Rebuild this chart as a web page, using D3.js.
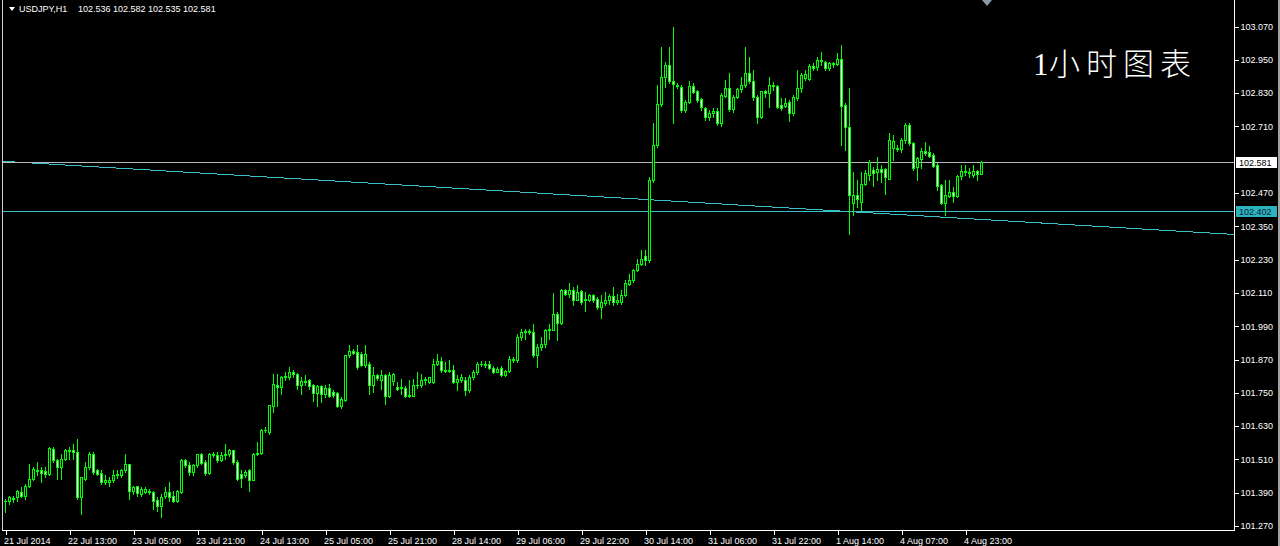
<!DOCTYPE html>
<html><head><meta charset="utf-8">
<script src="https://cdn.jsdelivr.net/npm/d3@7"></script>
<style>html,body{margin:0;padding:0;background:#000;overflow:hidden}</style>
</head><body><svg id="c" width="1280" height="546"></svg>
<script>
const symbol = "USDJPY,H1";
const titleText = "小时图表";
const titleNum = "1";
const open = [
101.358,101.360,101.366,101.372,101.390,101.378,101.414,101.439,101.466,101.469,
101.466,101.457,101.547,101.507,101.481,101.511,101.538,101.543,101.535,101.372,
101.439,101.481,101.529,101.469,101.459,101.426,101.426,101.435,101.451,101.451,
101.469,101.490,101.396,101.411,101.384,101.390,101.396,101.390,101.363,101.342,
101.375,101.390,101.375,101.360,101.390,101.505,101.487,101.463,101.487,101.526,
101.499,101.459,101.529,101.523,101.505,101.523,101.526,101.541,101.499,101.454,
101.451,101.469,101.435,101.529,101.531,101.613,101.606,101.702,101.775,101.769,
101.805,101.805,101.823,101.817,101.775,101.790,101.793,101.775,101.748,101.771,
101.745,101.766,101.751,101.748,101.699,101.723,101.883,101.898,101.895,101.889,
101.847,101.853,101.775,101.811,101.793,101.811,101.738,101.790,101.769,101.767,
101.766,101.735,101.738,101.775,101.775,101.793,101.787,101.787,101.853,101.862,
101.829,101.827,101.831,101.787,101.793,101.796,101.757,101.805,101.823,101.851,
101.853,101.853,101.839,101.823,101.837,101.811,101.826,101.871,101.865,101.949,
101.967,101.971,101.967,101.883,101.913,101.923,101.973,101.975,102.031,101.999,
102.120,102.104,102.120,102.084,102.116,102.082,102.084,102.100,102.088,102.057,
102.073,102.082,102.096,102.076,102.074,102.100,102.142,102.154,102.192,102.214,
102.240,102.226,102.515,102.641,102.788,102.888,102.930,102.870,102.858,102.851,
102.767,102.797,102.854,102.837,102.806,102.773,102.741,102.755,102.765,102.720,
102.818,102.845,102.770,102.815,102.842,102.857,102.902,102.870,102.813,102.741,
102.834,102.827,102.857,102.854,102.785,102.782,102.797,102.755,102.810,102.845,
102.882,102.878,102.925,102.924,102.948,102.942,102.918,102.936,102.932,102.950,
102.785,102.707,102.433,102.460,102.436,102.502,102.533,102.551,102.545,102.553,
102.553,102.520,102.629,102.631,102.626,102.659,102.713,102.650,102.563,102.589,
102.620,102.617,102.605,102.569,102.496,102.433,102.458,102.472,102.458,102.529,
102.548,102.543,102.533,102.547,102.536];
const high = [
101.366,101.378,101.378,101.399,101.408,101.420,101.493,101.481,101.499,101.481,
101.481,101.553,101.553,101.511,101.529,101.547,101.553,101.565,101.583,101.445,
101.499,101.535,101.535,101.475,101.469,101.451,101.445,101.469,101.469,101.475,
101.529,101.493,101.414,101.414,101.408,101.408,101.402,101.396,101.372,101.384,
101.408,101.426,101.396,101.399,101.511,101.511,101.499,101.493,101.529,101.531,
101.505,101.531,101.535,101.535,101.535,101.565,101.547,101.543,101.505,101.469,
101.471,101.475,101.531,101.571,101.619,101.625,101.706,101.817,101.817,101.807,
101.823,101.841,101.829,101.819,101.805,101.811,101.799,101.781,101.775,101.775,
101.775,101.781,101.757,101.751,101.732,101.883,101.919,101.907,101.919,101.895,
101.919,101.859,101.841,101.817,101.829,101.817,101.823,101.819,101.787,101.799,
101.771,101.793,101.799,101.823,101.817,101.805,101.805,101.871,101.889,101.877,
101.859,101.865,101.847,101.811,101.817,101.805,101.811,101.829,101.859,101.862,
101.862,101.862,101.843,101.841,101.843,101.831,101.880,101.877,101.961,101.979,
101.979,101.979,101.997,101.925,101.949,101.979,101.997,102.108,102.039,102.124,
102.124,102.144,102.130,102.136,102.118,102.112,102.106,102.106,102.094,102.100,
102.112,102.106,102.130,102.106,102.120,102.154,102.178,102.196,102.232,102.264,
102.262,102.527,102.719,102.857,102.996,102.942,102.996,103.068,102.863,102.857,
102.803,102.870,102.863,102.839,102.809,102.779,102.767,102.776,102.773,102.830,
102.876,102.900,102.821,102.845,102.888,102.996,102.960,102.912,102.821,102.837,
102.839,102.888,102.869,102.857,102.809,102.809,102.803,102.821,102.912,102.900,
102.912,102.933,102.936,102.957,102.978,102.945,102.942,102.942,102.972,103.002,
102.791,102.845,102.545,102.515,102.544,102.551,102.587,102.563,102.599,102.569,
102.557,102.683,102.677,102.641,102.665,102.719,102.719,102.653,102.599,102.629,
102.653,102.637,102.611,102.575,102.502,102.514,102.514,102.490,102.533,102.569,
102.569,102.557,102.569,102.551,102.582];
const low = [
101.318,101.348,101.354,101.360,101.372,101.366,101.408,101.433,101.451,101.426,
101.445,101.451,101.499,101.439,101.439,101.505,101.511,101.511,101.366,101.312,
101.433,101.475,101.457,101.451,101.420,101.420,101.414,101.426,101.442,101.445,
101.463,101.366,101.384,101.378,101.378,101.387,101.384,101.330,101.324,101.300,
101.370,101.360,101.354,101.354,101.387,101.481,101.451,101.451,101.481,101.490,
101.451,101.457,101.517,101.499,101.502,101.511,101.519,101.493,101.433,101.408,
101.445,101.396,101.433,101.523,101.529,101.607,101.600,101.678,101.702,101.745,
101.793,101.799,101.805,101.763,101.745,101.775,101.763,101.720,101.702,101.714,
101.732,101.732,101.732,101.696,101.694,101.720,101.877,101.887,101.835,101.843,
101.841,101.745,101.751,101.793,101.763,101.708,101.732,101.775,101.757,101.745,
101.732,101.732,101.735,101.766,101.769,101.781,101.784,101.784,101.847,101.823,
101.823,101.823,101.784,101.757,101.787,101.742,101.751,101.799,101.817,101.843,
101.841,101.835,101.819,101.823,101.807,101.807,101.823,101.859,101.859,101.937,
101.943,101.961,101.877,101.841,101.901,101.913,101.943,101.973,101.937,101.997,
102.100,102.094,102.064,102.082,102.070,102.043,102.079,102.076,102.051,102.019,
102.064,102.070,102.064,102.067,102.070,102.096,102.136,102.148,102.187,102.208,
102.208,102.220,102.509,102.635,102.782,102.851,102.863,102.719,102.845,102.761,
102.761,102.791,102.827,102.797,102.767,102.731,102.731,102.743,102.713,102.710,
102.815,102.765,102.761,102.809,102.833,102.851,102.863,102.803,102.719,102.737,
102.815,102.779,102.839,102.773,102.767,102.777,102.729,102.749,102.803,102.833,
102.876,102.876,102.912,102.912,102.930,102.912,102.912,102.924,102.930,102.641,
102.623,102.322,102.388,102.418,102.406,102.496,102.514,102.493,102.514,102.508,
102.466,102.517,102.587,102.620,102.617,102.647,102.641,102.551,102.514,102.557,
102.605,102.599,102.563,102.478,102.430,102.388,102.452,102.436,102.452,102.520,
102.533,102.527,102.527,102.514,102.535];
const close = [
101.360,101.372,101.370,101.394,101.378,101.414,101.439,101.475,101.469,101.459,
101.454,101.550,101.507,101.481,101.511,101.541,101.543,101.535,101.372,101.445,
101.481,101.529,101.463,101.457,101.426,101.435,101.435,101.451,101.454,101.469,
101.490,101.396,101.408,101.387,101.402,101.402,101.390,101.360,101.339,101.372,
101.390,101.372,101.358,101.394,101.505,101.487,101.463,101.487,101.526,101.495,
101.459,101.529,101.523,101.505,101.523,101.529,101.541,101.499,101.439,101.442,
101.463,101.435,101.529,101.531,101.613,101.615,101.706,101.781,101.769,101.805,
101.807,101.823,101.815,101.775,101.790,101.787,101.771,101.748,101.771,101.745,
101.766,101.738,101.740,101.699,101.726,101.883,101.898,101.893,101.841,101.847,
101.889,101.775,101.811,101.803,101.811,101.738,101.811,101.817,101.763,101.769,
101.735,101.740,101.775,101.778,101.793,101.798,101.805,101.853,101.862,101.829,
101.826,101.830,101.787,101.799,101.805,101.757,101.805,101.823,101.853,101.853,
101.849,101.839,101.823,101.833,101.811,101.826,101.871,101.867,101.949,101.967,
101.971,101.966,101.883,101.915,101.925,101.973,101.977,102.031,101.999,102.120,
102.106,102.120,102.084,102.112,102.076,102.087,102.100,102.084,102.057,102.076,
102.084,102.096,102.076,102.082,102.100,102.144,102.156,102.192,102.214,102.232,
102.226,102.515,102.641,102.788,102.888,102.930,102.870,102.860,102.852,102.767,
102.797,102.854,102.833,102.803,102.777,102.743,102.755,102.765,102.722,102.821,
102.845,102.770,102.815,102.842,102.857,102.902,102.870,102.813,102.741,102.837,
102.827,102.857,102.852,102.779,102.773,102.794,102.755,102.815,102.845,102.894,
102.897,102.926,102.920,102.948,102.943,102.918,102.936,102.932,102.950,102.782,
102.707,102.461,102.460,102.448,102.502,102.539,102.581,102.539,102.553,102.545,
102.527,102.659,102.656,102.626,102.659,102.713,102.647,102.557,102.593,102.620,
102.613,102.601,102.565,102.493,102.433,102.460,102.472,102.458,102.529,102.548,
102.543,102.539,102.548,102.536,102.581];
const xTickBars = [0,16,32,48,64,80,96,112,128,144,160,176,192,208,224,240];
const xTickLabels = ["21 Jul 2014","22 Jul 13:00","23 Jul 05:00","23 Jul 21:00","24 Jul 13:00",
  "25 Jul 05:00","25 Jul 21:00","28 Jul 14:00","29 Jul 06:00","29 Jul 22:00","30 Jul 14:00",
  "31 Jul 06:00","31 Jul 22:00","1 Aug 14:00","4 Aug 07:00","4 Aug 23:00"];
const yTickValues = [103.070,102.950,102.830,102.710,102.470,102.350,102.230,102.110,
  101.990,101.870,101.750,101.630,101.510,101.390,101.270];
const bidPrice = 102.581;
const levelPrice = 102.402;
const trendBars = [0, 244];
const trendPrices = [102.582, 102.373];

const W = 1280, H = 546;
const plotLeft = 2, plotRight = 1234, plotBottom = 530;
const FONT = "'Liberation Sans', Arial, sans-serif";
const LIME = "#00ff00", CYAN = "#3cc0c8";

const svg = d3.select("#c");
svg.append("rect").attr("width", W).attr("height", H).attr("fill", "#000");

const n = open.length;
const x = d3.scaleLinear().domain([0, n - 1]).range([5, 5 + 4 * (n - 1)]);
const y = d3.scaleLinear().domain([101.270, 103.070]).range([525.5, 26]);
const py = p => Math.round(y(p)) + 0.5;

svg.append("defs").append("clipPath").attr("id", "plot")
  .append("rect").attr("x", plotLeft).attr("y", 0).attr("width", plotRight - plotLeft).attr("height", plotBottom);

const g = svg.append("g").attr("clip-path", "url(#plot)");

// trend line (ray through two anchors, extended across plot)
const slope = (trendPrices[1] - trendPrices[0]) / (trendBars[1] - trendBars[0]);
const tAt = b => trendPrices[0] + slope * (b - trendBars[0]);
const bL = x.invert(plotLeft), bR = x.invert(plotRight);
g.append("line").attr("x1", plotLeft).attr("x2", plotRight)
  .attr("y1", y(tAt(bL))).attr("y2", y(tAt(bR)))
  .attr("stroke", CYAN).attr("stroke-width", 1).attr("shape-rendering", "crispEdges");

// horizontal level & bid line
g.append("line").attr("x1", plotLeft).attr("x2", plotRight).attr("y1", py(levelPrice)).attr("y2", py(levelPrice))
  .attr("stroke", CYAN).attr("shape-rendering", "crispEdges");
g.append("line").attr("x1", plotLeft).attr("x2", plotRight).attr("y1", py(bidPrice)).attr("y2", py(bidPrice))
  .attr("stroke", "#b8b8b8").attr("shape-rendering", "crispEdges");

// candles
const idx = d3.range(n);
const cg = g.append("g").attr("shape-rendering", "crispEdges");
const candle = cg.selectAll("g.c").data(idx).join("g").attr("class", "c");
candle.append("rect")
  .attr("x", i => Math.round(x(i)))
  .attr("y", i => Math.round(y(high[i])))
  .attr("width", 1)
  .attr("height", i => Math.round(y(low[i])) - Math.round(y(high[i])) + 1)
  .attr("fill", LIME);
candle.append("rect")
  .attr("x", i => Math.round(x(i)) - 1)
  .attr("y", i => Math.round(y(Math.max(open[i], close[i]))))
  .attr("width", 3)
  .attr("height", i => Math.round(y(Math.min(open[i], close[i]))) - Math.round(y(Math.max(open[i], close[i]))) + 1)
  .attr("fill", LIME);
candle.append("rect")
  .attr("x", i => Math.round(x(i)))
  .attr("y", i => Math.round(y(Math.max(open[i], close[i]))) + 1)
  .attr("width", 1)
  .attr("height", i => Math.max(0, Math.round(y(Math.min(open[i], close[i]))) - Math.round(y(Math.max(open[i], close[i]))) - 1))
  .attr("fill", i => close[i] >= open[i] ? "#000" : "#fff");

// frame
svg.append("line").attr("x1", plotLeft + 0.5).attr("x2", plotLeft + 0.5).attr("y1", 0).attr("y2", plotBottom + 1)
  .attr("stroke", "#d0d0d0");
svg.append("line").attr("x1", plotLeft).attr("x2", plotRight + 1).attr("y1", plotBottom + 0.5).attr("y2", plotBottom + 0.5)
  .attr("stroke", "#fff");
svg.append("line").attr("x1", plotRight + 0.5).attr("x2", plotRight + 0.5).attr("y1", 0).attr("y2", plotBottom + 1)
  .attr("stroke", "#fff");

// right axis
const yAxis = d3.axisRight(y).tickValues(yTickValues).tickFormat(d3.format(".3f"))
  .tickSize(4).tickSizeOuter(0).tickPadding(2);
const ya = svg.append("g").attr("transform", `translate(${plotRight + 0.5},0.5)`).call(yAxis);
ya.select(".domain").remove();
ya.selectAll("line").attr("stroke", "#fff").attr("shape-rendering", "crispEdges");
ya.selectAll("text").attr("fill", "#fff").attr("font-family", FONT).attr("font-size", 9);

// price labels on axis
function priceLabel(p, bg, fg) {
  const cy = Math.round(y(p));
  svg.append("rect").attr("x", plotRight + 2).attr("y", cy - 5).attr("width", 41).attr("height", 11).attr("fill", bg);
  svg.append("text").attr("x", plotRight + 5).attr("y", cy + 0.5).attr("dy", "0.35em")
    .attr("font-family", FONT).attr("font-size", 9).attr("fill", fg).text(d3.format(".3f")(p));
}
priceLabel(bidPrice, "#fff", "#000");
priceLabel(levelPrice, "#2cb4bc", "#0a1a3a");

// bottom axis
const xAxis = d3.axisBottom(x).tickValues(xTickBars).tickFormat((d, i) => xTickLabels[i])
  .tickSize(4).tickSizeOuter(0).tickPadding(3);
const xa = svg.append("g").attr("transform", `translate(0.5,${plotBottom + 0.5})`).call(xAxis);
xa.select(".domain").remove();
xa.selectAll("line").attr("stroke", "#fff").attr("shape-rendering", "crispEdges");
xa.selectAll("text").attr("fill", "#fff").attr("font-family", FONT).attr("font-size", 9)
  .attr("text-anchor", "start").attr("x", -2);

// header
svg.append("path").attr("d", "M9,7 L15,7 L12,11 Z").attr("fill", "#fff");
svg.append("text").attr("x", 19).attr("y", 12).attr("font-family", FONT).attr("font-size", 9).attr("fill", "#fff")
  .text(symbol);
const last = n - 1;
svg.append("text").attr("x", 78).attr("y", 12).attr("font-family", FONT).attr("font-size", 9).attr("fill", "#fff")
  .text([open[last], high[last], low[last], close[last]].map(d3.format(".3f")).join(" "));

// shift marker
svg.append("path").attr("d", "M982,0 L992,0 L987,6 Z").attr("fill", "#8a98a8");

// right window edge
svg.append("rect").attr("x", 1278).attr("y", 0).attr("width", 2).attr("height", H).attr("fill", "#a0a0a0");

// title
const t = svg.append("text").attr("y", 75).attr("fill", "#fff").attr("font-size", 31);
t.append("tspan").attr("x", 1033).attr("font-family", "'Liberation Serif', serif").text(titleNum);
t.append("tspan").attr("x", 1049).attr("font-family", "'Noto Sans CJK SC', sans-serif")
  .attr("font-weight", 300).attr("letter-spacing", 6).text(titleText);
</script></body></html>
